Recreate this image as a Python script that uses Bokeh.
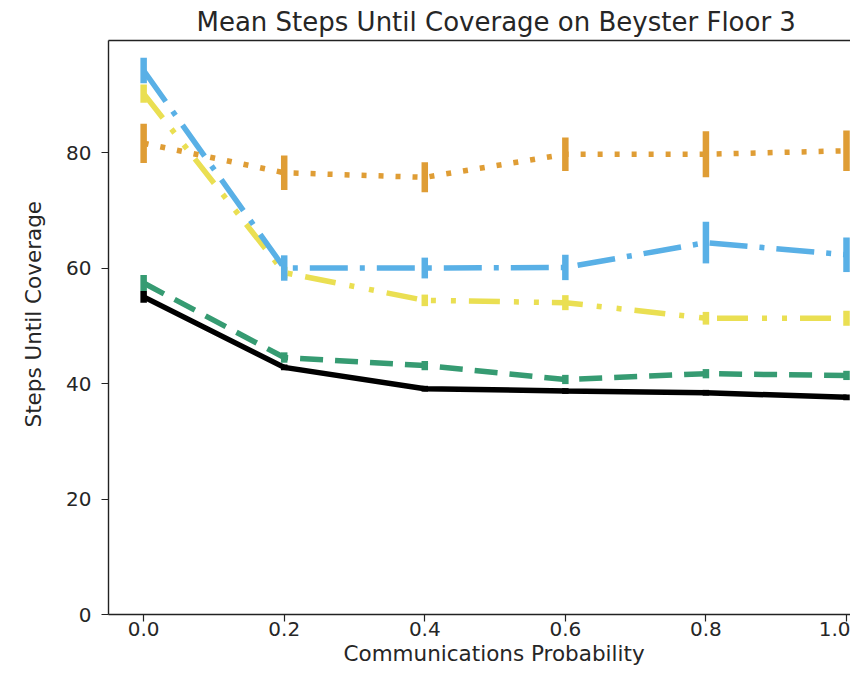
from bokeh.plotting import figure
from bokeh.models import Range1d, FixedTicker, PrintfTickFormatter, LinearAxis, Title
from bokeh.embed import file_html
from bokeh.resources import INLINE

# ---- data ----
comm_prob = [0.0, 0.2, 0.4, 0.6, 0.8, 1.0]

orange_mean = [81.6, 76.5, 75.7, 79.7, 79.7, 80.3]
orange_err = [3.4, 3.0, 2.6, 2.9, 4.0, 3.5]

blue_mean = [94.2, 60.0, 60.0, 60.1, 64.4, 62.3]
blue_err = [2.2, 2.2, 1.8, 2.2, 3.6, 3.0]

yellow_mean = [90.2, 59.2, 54.4, 54.0, 51.3, 51.3]
yellow_err = [1.6, 1.0, 1.0, 1.3, 1.1, 1.3]

green_mean = [57.4, 44.5, 43.1, 40.7, 41.7, 41.4]
green_err = [1.4, 0.9, 0.8, 0.8, 0.8, 0.8]

black_mean = [55.0, 42.8, 39.1, 38.7, 38.4, 37.6]
black_err = [1.0, 0.5, 0.5, 0.5, 0.5, 0.5]

x_ticks = [0.0, 0.2, 0.4, 0.6, 0.8, 1.0]
y_ticks = [0, 20, 40, 60, 80]

title_text = "Mean Steps Until Coverage on Beyster Floor 3"
x_label = "Communications Probability"
y_label = "Steps Until Coverage"

FONT = "DejaVu Sans"
TXT = "#262626"
AX = "#222222"

p = figure(width=850, height=666,
           x_range=Range1d(-0.05, 1.0057), y_range=Range1d(0, 99.4),
           output_backend="svg", toolbar_location=None,
           min_border_left=106, min_border_right=0,
           min_border_top=40, min_border_bottom=52)

p.outline_line_color = None
p.grid.visible = False
p.background_fill_color = "white"
p.border_fill_color = "white"

p.title.text = title_text
p.title.text_font = FONT
p.title.text_font_size = "26px"
p.title.text_font_style = "normal"
p.title.text_color = TXT
p.title.align = "left"
p.title.offset = 88
p.title.standoff = 8

series = [
    (black_mean, black_err, "#000000", "solid"),
    (green_mean, green_err, "#369B72", "23 12"),
    (yellow_mean, yellow_err, "#EADF52", "31 14 5 15 5 13"),
    (blue_mean, blue_err, "#59B0E6", "38 12 5 12"),
    (orange_mean, orange_err, "#DF9D35", "5 12"),
]

for mean, err, color, dash in series:
    p.line(comm_prob, mean, line_color=color, line_width=5.5, line_dash=dash)
    lo = [m - e for m, e in zip(mean, err)]
    hi = [m + e for m, e in zip(mean, err)]
    p.segment(x0=comm_prob, y0=lo, x1=comm_prob, y1=hi,
              line_color=color, line_width=6.5)

for ax in (p.xaxis[0], p.yaxis[0]):
    ax.axis_line_color = AX
    ax.axis_line_width = 1.4
    ax.major_tick_line_color = AX
    ax.major_tick_line_width = 1.2
    ax.major_tick_out = 7
    ax.major_tick_in = 0
    ax.minor_tick_line_color = None
    ax.major_label_text_font = FONT
    ax.major_label_text_font_size = "20px"
    ax.major_label_text_color = TXT

p.xaxis[0].ticker = FixedTicker(ticks=x_ticks)
p.xaxis[0].formatter = PrintfTickFormatter(format="%.1f")
p.xaxis[0].major_label_standoff = 0

p.yaxis[0].ticker = FixedTicker(ticks=y_ticks)
p.yaxis[0].major_label_standoff = 10

top = LinearAxis(ticker=FixedTicker(ticks=[]), axis_line_color=AX,
                 axis_line_width=1.4, major_tick_line_color=None,
                 major_tick_out=0, minor_tick_line_color=None,
                 major_label_text_font_size="0px")
p.add_layout(top, "above")

xlab = Title(text=x_label, text_font=FONT, text_font_size="21.5px",
             text_font_style="normal", text_color=TXT,
             align="left", offset=235, standoff=1, vertical_align="bottom")
p.add_layout(xlab, "below")

ylab = Title(text=y_label, text_font=FONT, text_font_size="21.5px",
             text_font_style="normal", text_color=TXT,
             align="left", offset=187, standoff=36, vertical_align="bottom")
p.add_layout(ylab, "left")

open("out.html", "w").write(file_html(p, INLINE))
